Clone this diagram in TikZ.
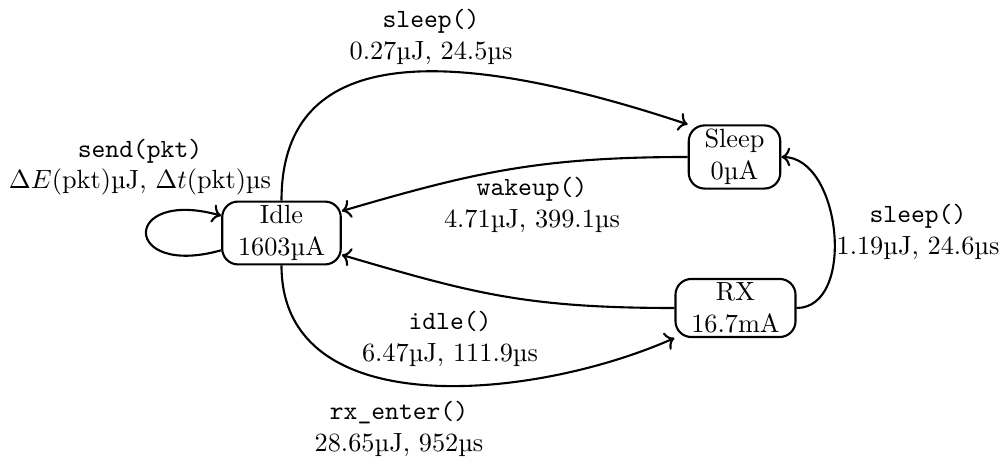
\documentclass[tikz,border=0pt]{standalone}
\usepackage{amsmath}
\usepackage{fontspec}
\usetikzlibrary{arrows.meta}
\tikzset{statebox/.style = {draw, thick, rounded corners = 6pt, align = center, inner xsep = 6pt, inner ysep = 1.5pt}}
\tikzset{lbl/.style = {align = center}}
\tikzset{trans/.style = {thick, ->}}

\begin{document}
\begin{tikzpicture}[x = 0.38pt, y = -0.38pt]
\useasboundingbox (0,0) rectangle (1004,464);
\node[statebox] (Idle) at (281.5,233) {Idle\\1603µA};
\node[statebox] (Sleep) at (734.5,157) {Sleep\\0µA};
\node[statebox] (RX) at (735.5,308) {RX\\16.7mA};
\draw[trans] (Idle.196) .. controls +(-100,28) and +(-100,-28) .. (Idle.164);
\draw[trans] (Idle.north) .. controls +(0,-145) and +(-265,-88) .. (Sleep.north west);
\draw[trans] (Sleep.west) .. controls +(-150,0) and +(130,-38) .. (Idle.20);
\draw[trans] (RX.east) .. controls +(60,0) and +(60,0) .. (Sleep.east);
\draw[trans] (RX.west) .. controls +(-150,0) and +(130,38) .. (Idle.-20);
\draw[trans] (Idle.south) .. controls +(0,160) and +(-140,62) .. (RX.south west);
\node[lbl] (lSend) at (140,167) {\texttt{send(pkt)}\\$\Delta E(\text{pkt})$µJ, $\Delta t(\text{pkt})$µs};
\node[lbl] (lSleepA) at (431,37) {\texttt{sleep()}\\0.27µJ, 24.5µs};
\node[lbl] (lWake) at (532,205) {\texttt{wakeup()}\\4.71µJ, 399.1µs};
\node[lbl] (lSleepB) at (918,232) {\texttt{sleep()}\\1.19µJ, 24.6µs};
\node[lbl] (lIdle) at (450,339) {\texttt{idle()}\\6.47µJ, 111.9µs};
\node[lbl] (lRx) at (399,429) {\texttt{rx\_enter()}\\28.65µJ, 952µs};
\end{tikzpicture}
\end{document}
